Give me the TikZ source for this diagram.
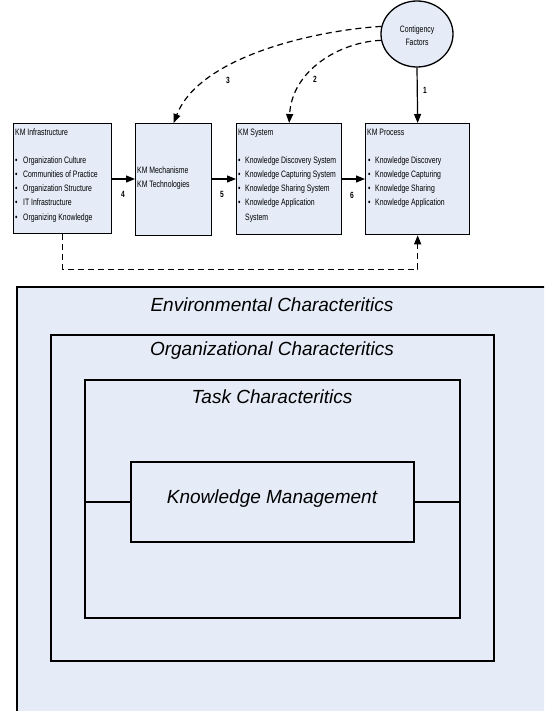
\documentclass[tikz,border=0pt]{standalone}
\usepackage{fontspec}
\setmainfont{Liberation Sans}
\newfontfamily\nar[FakeStretch=0.74]{Liberation Sans}
\usetikzlibrary{arrows.meta,shapes.geometric}
\definecolor{boxfill}{RGB}{229,236,247}
\begin{document}
\begin{tikzpicture}[x=1pt,y=-1pt,
  kmbox/.style={draw, line width=1.3pt, fill=boxfill, rectangle, inner sep=0, anchor=north west},
  small/.style={font=\nar\fontsize{9.3}{10}\selectfont, inner sep=0, anchor=base west},
  num/.style={font=\nar\bfseries\fontsize{9}{10}\selectfont, inner sep=0},
  arr/.style={line width=1.2pt, -{Triangle[length=9pt,width=7pt]}},
  darr/.style={arr, dash pattern=on 6pt off 4pt},
  frame/.style={draw, line width=2pt, fill=boxfill, rectangle, anchor=north west, inner sep=0},
  big/.style={font=\itshape\fontsize{19}{22}\selectfont, inner sep=0}
]
\useasboundingbox (0,0) rectangle (544,711);
\clip (0,0) rectangle (544,711);
\fill[white] (0,0) rectangle (544,711);

% ---------- top diagram ----------
\node[ellipse, draw, line width=1.3pt, fill=boxfill, minimum width=72pt, minimum height=66pt, inner sep=0] (cf) at (417,34) {};
\node[font=\nar\fontsize{9.3}{10}\selectfont, inner sep=0, align=center] (cft) at (417,36) {Contigency\\[3pt]Factors};

\node[kmbox, minimum width=98pt, minimum height=110pt] (infra) at (13,123) {};
\node[kmbox, minimum width=76pt, minimum height=112pt] (mech) at (135,123) {};
\node[kmbox, minimum width=105pt, minimum height=111pt] (sys) at (236,123) {};
\node[kmbox, minimum width=104pt, minimum height=111pt] (proc) at (365,123) {};

% infrastructure texts
\node[small] (t1) at (15,136) {KM Infrastructure};
\node[small] (b11) at (15,164) {•};
\node[small] (i11) at (23,164) {Organization Culture};
\node[small] (b12) at (15,178) {•};
\node[small] (i12) at (23,178) {Communities of Practice};
\node[small] (b13) at (15,192) {•};
\node[small] (i13) at (23,192) {Organization Structure};
\node[small] (b14) at (15,206) {•};
\node[small] (i14) at (23,206) {IT Infrastructure};
\node[small] (b15) at (15,220) {•};
\node[small] (i15) at (23,220) {Organizing Knowledge};

% mechanism texts
\node[small] (m1) at (137,174) {KM Mechanisme};
\node[small] (m2) at (137,188) {KM Technologies};

% system texts
\node[small] (t3) at (238,136) {KM System};
\node[small] (b31) at (238,164) {•};
\node[small] (i31) at (245,164) {Knowledge Discovery System};
\node[small] (b32) at (238,178) {•};
\node[small] (i32) at (245,178) {Knowledge Capturing System};
\node[small] (b33) at (238,192) {•};
\node[small] (i33) at (245,192) {Knowledge Sharing System};
\node[small] (b34) at (238,206) {•};
\node[small] (i34) at (245,206) {Knowledge Application};
\node[small] (i35) at (245,220) {System};

% process texts
\node[small] (t4) at (367,136) {KM Process};
\node[small] (b41) at (368,164) {•};
\node[small] (i41) at (375,164) {Knowledge Discovery};
\node[small] (b42) at (368,178) {•};
\node[small] (i42) at (375,178) {Knowledge Capturing};
\node[small] (b43) at (368,192) {•};
\node[small] (i43) at (375,192) {Knowledge Sharing};
\node[small] (b44) at (368,206) {•};
\node[small] (i44) at (375,206) {Knowledge Application};

% connectors
\draw[arr] (cf.south) -- (proc.north);
\draw[arr] (infra.east |- 0,179) -- (mech.west |- 0,179);
\draw[arr] (mech.east |- 0,179) -- (sys.west |- 0,179);
\draw[arr] (sys.east |- 0,179) -- (proc.west |- 0,179);
\draw[darr] (cf.168) .. controls (320,30) and (200,55) .. (mech.north);
\draw[darr] (cf.190) .. controls (340,42) and (292,70) .. (sys.north);
\draw[darr] (infra.south) -- ++(0,35) -| (proc.south);

\node[num] (n1) at (425,90) {1};
\node[num] (n2) at (315,79) {2};
\node[num] (n3) at (228,80) {3};
\node[num] (n4) at (123,194) {4};
\node[num] (n5) at (222,194) {5};
\node[num] (n6) at (352,195) {6};

% ---------- nested frames ----------
\node[frame, draw=none, minimum width=600pt, minimum height=500pt] (env) at (17,287) {};
\draw[line width=2pt] (env.south west) -- (env.north west) -- (env.north east);
\node[frame, minimum width=443pt, minimum height=326pt] (org) at (50,334) {};
\node[frame, minimum width=375pt, minimum height=238pt] (task) at (84,379) {};
\node[frame, minimum width=283pt, minimum height=80pt] (km) at (130,461) {};

\node[big] (envt) at (272,305) {Environmental Characteritics};
\node[big] (orgt) at (272,351) {Organizational Characteritics};
\node[big] (taskt) at (272,397) {Task Characteritics};
\node[big] (kmt) at (272,499) {Knowledge Management};

\draw[line width=2pt] (km.west -| task.west) -- (km.west);
\draw[line width=2pt] (km.east) -- (km.east -| task.east);
\end{tikzpicture}
\end{document}
